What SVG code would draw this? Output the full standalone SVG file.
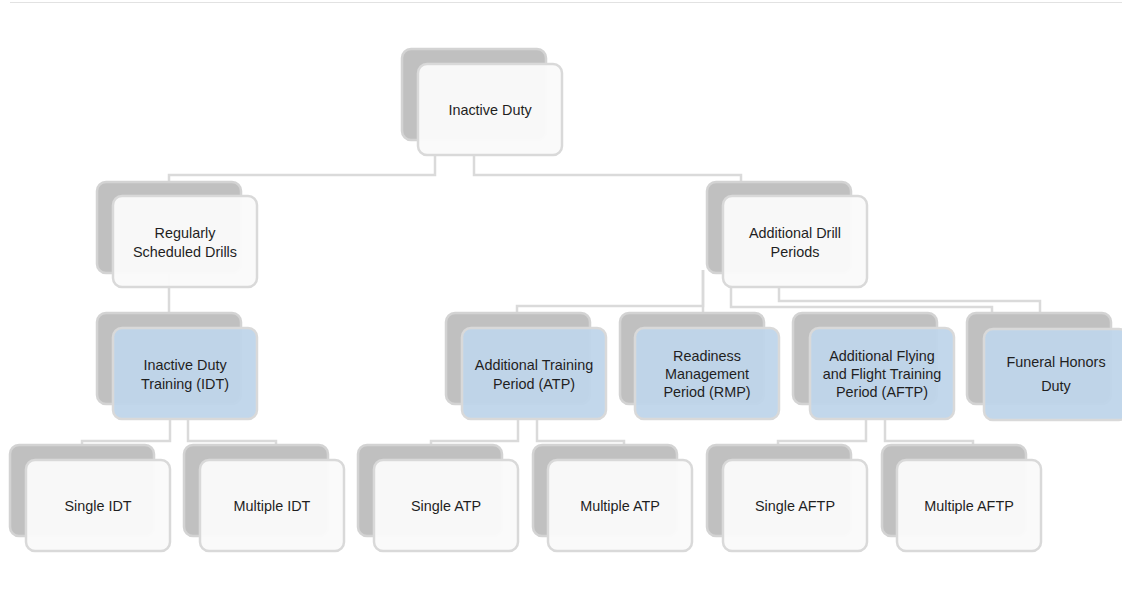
<svg xmlns="http://www.w3.org/2000/svg" width="1122" height="594" viewBox="0 0 1122 594">
<style>
.bk{fill:#c0c0c0;stroke:#d3d3d3;stroke-width:2.5}
.fw{fill:#fafafa;fill-opacity:0.96;stroke:#d9d9d9;stroke-width:2.5}
.fb{fill:#bfd5ea;fill-opacity:0.95;stroke:#d9d9d9;stroke-width:2.5}
.cn{fill:none;stroke:#dadada;stroke-width:2.5}
text{font-family:"Liberation Sans",Arial,sans-serif;font-size:14.4px;fill:#1f1f1f;text-anchor:middle}
</style>
<rect width="1122" height="594" fill="#ffffff"/>
<line x1="10" y1="2.5" x2="1122" y2="2.5" stroke="#e2e2e2" stroke-width="1.2"/>
<g id="connectors">
<polyline class="cn" points="435,156 435,175 169,175 169,183"/>
<polyline class="cn" points="474,156 474,175 741,175 741,183"/>
<polyline class="cn" points="169,270 169,314"/>
<polyline class="cn" points="170,418 170,441 82,441 82,446"/>
<polyline class="cn" points="188,418 188,441 276,441 276,446"/>
<polyline class="cn" points="703,270 703,306 517,306 517,314"/>
<polyline class="cn" points="703,270 703,314"/>
<polyline class="cn" points="731,287 731,307 992,307 992,314"/>
<polyline class="cn" points="779,287 779,301 1040,301 1040,314"/>
<polyline class="cn" points="518,419 518,441 431,441 431,446"/>
<polyline class="cn" points="537,419 537,441 624,441 624,446"/>
<polyline class="cn" points="866,419 866,441 778,441 778,446"/>
<polyline class="cn" points="885,419 885,441 973,441 973,446"/>
</g>
<g id="n-inactive-duty">
<rect class="bk" x="402" y="49" width="144" height="91" rx="9"/>
<rect class="fw" x="418" y="64" width="144" height="91" rx="9"/>
<text x="490" y="115">Inactive Duty</text>
</g>
<g id="n-regular">
<rect class="bk" x="97" y="182" width="144" height="91" rx="9"/>
<rect class="fw" x="113" y="196" width="144" height="91" rx="9"/>
<text x="185" y="238">Regularly</text>
<text x="185" y="257">Scheduled Drills</text>
</g>
<g id="n-additional-drill">
<rect class="bk" x="707" y="182" width="144" height="91" rx="9"/>
<rect class="fw" x="723" y="196" width="144" height="91" rx="9"/>
<text x="795" y="238">Additional Drill</text>
<text x="795" y="257">Periods</text>
</g>
<g id="n-idt">
<rect class="bk" x="97" y="313" width="144" height="91" rx="9"/>
<rect class="fb" x="113" y="328" width="144" height="91" rx="9"/>
<text x="185" y="370">Inactive Duty</text>
<text x="185" y="389">Training (IDT)</text>
</g>
<g id="n-atp">
<rect class="bk" x="446" y="313" width="144" height="91" rx="9"/>
<rect class="fb" x="462" y="328" width="144" height="91" rx="9"/>
<text x="534" y="370">Additional Training</text>
<text x="534" y="389">Period (ATP)</text>
</g>
<g id="n-rmp">
<rect class="bk" x="620" y="313" width="144" height="91" rx="9"/>
<rect class="fb" x="635" y="328" width="144" height="91" rx="9"/>
<text x="707" y="361">Readiness</text>
<text x="707" y="379">Management</text>
<text x="707" y="397">Period (RMP)</text>
</g>
<g id="n-aftp">
<rect class="bk" x="793" y="313" width="144" height="91" rx="9"/>
<rect class="fb" x="810" y="328" width="144" height="91" rx="9"/>
<text x="882" y="361">Additional Flying</text>
<text x="882" y="379">and Flight Training</text>
<text x="882" y="397">Period (AFTP)</text>
</g>
<g id="n-funeral">
<rect class="bk" x="967" y="313" width="144" height="91" rx="9"/>
<rect class="fb" x="984" y="329" width="144" height="91" rx="9"/>
<text x="1056" y="367">Funeral Honors</text>
<text x="1056" y="391">Duty</text>
</g>
<g id="n-single-idt">
<rect class="bk" x="10" y="445" width="144" height="91" rx="9"/>
<rect class="fw" x="26" y="460" width="144" height="91" rx="9"/>
<text x="98" y="511">Single IDT</text>
</g>
<g id="n-multiple-idt">
<rect class="bk" x="184" y="445" width="144" height="91" rx="9"/>
<rect class="fw" x="200" y="460" width="144" height="91" rx="9"/>
<text x="272" y="511">Multiple IDT</text>
</g>
<g id="n-single-atp">
<rect class="bk" x="358" y="445" width="144" height="91" rx="9"/>
<rect class="fw" x="374" y="460" width="144" height="91" rx="9"/>
<text x="446" y="511">Single ATP</text>
</g>
<g id="n-multiple-atp">
<rect class="bk" x="533" y="445" width="144" height="91" rx="9"/>
<rect class="fw" x="548" y="460" width="144" height="91" rx="9"/>
<text x="620" y="511">Multiple ATP</text>
</g>
<g id="n-single-aftp">
<rect class="bk" x="707" y="445" width="144" height="91" rx="9"/>
<rect class="fw" x="723" y="460" width="144" height="91" rx="9"/>
<text x="795" y="511">Single AFTP</text>
</g>
<g id="n-multiple-aftp">
<rect class="bk" x="882" y="445" width="144" height="91" rx="9"/>
<rect class="fw" x="897" y="460" width="144" height="91" rx="9"/>
<text x="969" y="511">Multiple AFTP</text>
</g>
</svg>
